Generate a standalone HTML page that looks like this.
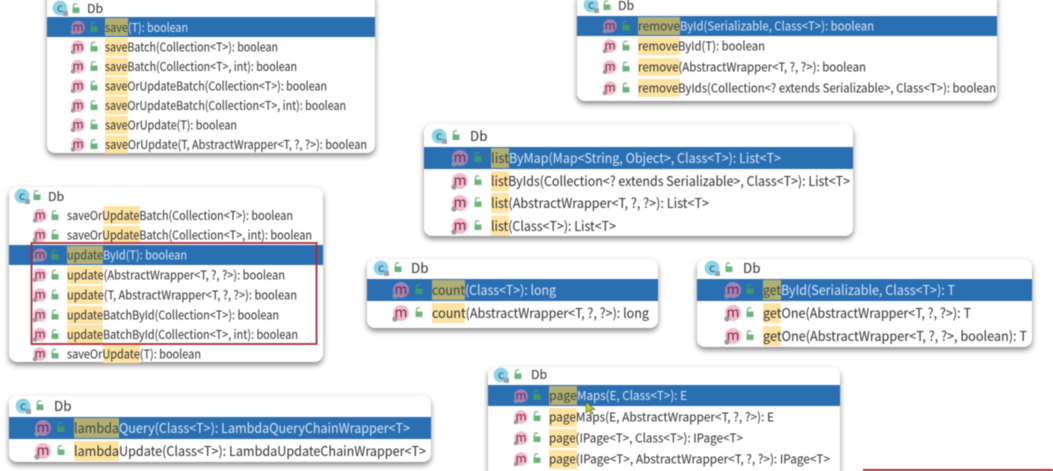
<!DOCTYPE html>
<html><head><meta charset="utf-8"><style>
html,body{margin:0;padding:0;background:#fff;width:1053px;height:471px;overflow:hidden}
svg{display:block;filter:blur(.5px)}
.p{fill:#fff;filter:drop-shadow(0 3px 3px rgba(0,0,0,.48))}
text{font-family:"Noto Sans CJK SC","Liberation Sans",sans-serif;fill:#303030;font-size:12.4px}
.b{font-size:13.4px}
.s{fill:#d6e6f6}
.h{fill:#ffe3a0}
.hs{fill:#b2ae74}
.sel{fill:#2b6fb3}
.dk{fill:#3a4a40}
.mt{font-size:12px;fill:#6a3050;text-anchor:middle}
.mb{font-size:14px;fill:#6a3050;text-anchor:middle}
.ct{font-size:12px;fill:#2f5f7a;text-anchor:middle}
</style></head><body>
<svg width="1053" height="471" viewBox="0 0 1053 471" xmlns="http://www.w3.org/2000/svg">
<defs>
<g id="m"><circle r="6.8" fill="#f7b9c9"/><circle cx="-5" cy="5" r="2.3" fill="#9a9a9a"/></g>
<g id="ms"><circle r="6.8" fill="#a283b5"/><circle cx="-5" cy="5" r="2.3" fill="#8b93a8"/></g>
<g id="M"><circle r="8" fill="#f7b9c9"/><circle cx="-6" cy="6" r="2.7" fill="#9a9a9a"/></g>
<g id="Ms"><circle r="8" fill="#a283b5"/><circle cx="-6" cy="6" r="2.7" fill="#8b93a8"/></g>
<g id="l"><rect x="-3.5" y="-1.5" width="7" height="5.5" fill="#6db57c"/><path d="M-2.5-1.5v-2a2 2 0 0 1 3.6-1" fill="none" stroke="#6db57c" stroke-width="1.2"/></g>
<g id="ls"><rect x="-3.5" y="-1.5" width="7" height="5.5" fill="#3f9a6a"/><path d="M-2.5-1.5v-2a2 2 0 0 1 3.6-1" fill="none" stroke="#3f9a6a" stroke-width="1.2"/></g>
<g id="c"><circle r="7.4" fill="#8fd3e8"/><rect x="3" y="3" width="5" height="5" fill="#9aa0a8"/></g>
</defs>

<!-- Panel 1 -->
<rect class="p" x="47" y="-10" width="328" height="163" rx="8"/>
<use href="#c" x="60" y="8"/><text class="ct" x="60" y="12">c</text><use href="#l" x="76" y="9"/><text x="87" y="13">Db</text>
<rect class="sel" x="47" y="17" width="328" height="20"/>
<rect class="hs" x="105" y="18" width="23" height="18"/><rect class="h" x="105" y="38" width="23" height="18"/><rect class="h" x="105" y="57.500" width="23" height="18"/><rect class="h" x="105" y="77" width="23" height="18"/><rect class="h" x="105" y="96.500" width="23" height="18"/><rect class="h" x="105" y="116" width="23" height="18"/><rect class="h" x="105" y="135.500" width="23" height="18"/>
<use href="#ms" x="78" y="27.500"/><text class="mt" x="78" y="31">m</text><use href="#ls" x="94" y="28"/><text class="dk" x="105" y="32" textLength="23" lengthAdjust="spacingAndGlyphs">save</text><text class="s" x="128" y="32" textLength="60" lengthAdjust="spacingAndGlyphs">(T): boolean</text>
<use href="#m" x="78" y="47"/><text class="mt" x="78" y="50.500">m</text><use href="#l" x="94" y="47.500"/><text x="105" y="51.500" textLength="173" lengthAdjust="spacingAndGlyphs">saveBatch(Collection&lt;T&gt;): boolean</text>
<use href="#m" x="78" y="66.500"/><text class="mt" x="78" y="70">m</text><use href="#l" x="94" y="67"/><text x="105" y="71" textLength="192" lengthAdjust="spacingAndGlyphs">saveBatch(Collection&lt;T&gt;, int): boolean</text>
<use href="#m" x="78" y="86"/><text class="mt" x="78" y="89.500">m</text><use href="#l" x="94" y="86.500"/><text x="105" y="90.500" textLength="222" lengthAdjust="spacingAndGlyphs">saveOrUpdateBatch(Collection&lt;T&gt;): boolean</text>
<use href="#m" x="78" y="105.500"/><text class="mt" x="78" y="109">m</text><use href="#l" x="94" y="106"/><text x="105" y="110" textLength="241" lengthAdjust="spacingAndGlyphs">saveOrUpdateBatch(Collection&lt;T&gt;, int): boolean</text>
<use href="#m" x="78" y="125"/><text class="mt" x="78" y="128.500">m</text><use href="#l" x="94" y="125.500"/><text x="105" y="129.500" textLength="132" lengthAdjust="spacingAndGlyphs">saveOrUpdate(T): boolean</text>
<use href="#m" x="78" y="144.500"/><text class="mt" x="78" y="148">m</text><use href="#l" x="94" y="145"/><text x="105" y="149" textLength="262" lengthAdjust="spacingAndGlyphs">saveOrUpdate(T, AbstractWrapper&lt;T, ?, ?&gt;): boolean</text>

<!-- Panel 2 -->
<rect class="p" x="577" y="-10" width="420" height="111" rx="8"/>
<use href="#c" x="591" y="5"/><text class="ct" x="591" y="9">c</text><use href="#l" x="607" y="6"/><text x="618" y="10">Db</text>
<rect class="sel" x="577" y="16" width="420" height="20"/>
<rect class="hs" x="638" y="17" width="42" height="18"/><rect class="h" x="638" y="37" width="42" height="18"/><rect class="h" x="638" y="58" width="42" height="18"/><rect class="h" x="638" y="79" width="42" height="18"/>
<use href="#ms" x="610" y="26"/><text class="mt" x="610" y="29.500">m</text><use href="#ls" x="626" y="26.500"/><text x="638" y="30.500" textLength="42" lengthAdjust="spacingAndGlyphs" class="dk">remove</text><text class="s" x="680" y="30.500" textLength="194" lengthAdjust="spacingAndGlyphs">ById(Serializable, Class&lt;T&gt;): boolean</text>
<use href="#m" x="610" y="46"/><text class="mt" x="610" y="49.500">m</text><use href="#l" x="626" y="46.500"/><text x="638" y="50.500" textLength="127" lengthAdjust="spacingAndGlyphs">removeById(T): boolean</text>
<use href="#m" x="610" y="67"/><text class="mt" x="610" y="70.500">m</text><use href="#l" x="626" y="67.500"/><text x="638" y="71.500" textLength="228" lengthAdjust="spacingAndGlyphs">remove(AbstractWrapper&lt;T, ?, ?&gt;): boolean</text>
<use href="#m" x="610" y="88"/><text class="mt" x="610" y="91.500">m</text><use href="#l" x="626" y="88.500"/><text x="638" y="92.500" textLength="358" lengthAdjust="spacingAndGlyphs">removeByIds(Collection&lt;? extends Serializable&gt;, Class&lt;T&gt;): boolean</text>

<!-- Panel 3 -->
<rect class="p" x="424" y="124" width="429" height="112" rx="8"/>
<use href="#c" x="439" y="136"/><text class="ct" x="439" y="140">c</text><use href="#l" x="456" y="136"/><text class="b" x="470" y="141">Db</text>
<rect class="sel" x="424" y="147" width="429" height="22"/>
<rect class="hs" x="491" y="148" width="18" height="20"/><rect class="h" x="491" y="171" width="18" height="20"/><rect class="h" x="491" y="193" width="18" height="20"/><rect class="h" x="491" y="216" width="18" height="20"/>
<use href="#Ms" x="460" y="158"/><text class="mb" x="460" y="162">m</text><use href="#ls" x="478" y="158"/><text class="b dk" x="491" y="163" textLength="18" lengthAdjust="spacingAndGlyphs">list</text><text class="b s" x="509" y="163" textLength="272" lengthAdjust="spacingAndGlyphs">ByMap(Map&lt;String, Object&gt;, Class&lt;T&gt;): List&lt;T&gt;</text>
<use href="#M" x="460" y="181"/><text class="mb" x="460" y="185">m</text><use href="#l" x="478" y="181"/><text class="b" x="491" y="186" textLength="359" lengthAdjust="spacingAndGlyphs">listByIds(Collection&lt;? extends Serializable&gt;, Class&lt;T&gt;): List&lt;T&gt;</text>
<use href="#M" x="460" y="203"/><text class="mb" x="460" y="207">m</text><use href="#l" x="478" y="203"/><text class="b" x="491" y="208" textLength="218" lengthAdjust="spacingAndGlyphs">list(AbstractWrapper&lt;T, ?, ?&gt;): List&lt;T&gt;</text>
<use href="#M" x="460" y="226"/><text class="mb" x="460" y="230">m</text><use href="#l" x="478" y="226"/><text class="b" x="491" y="231" textLength="125" lengthAdjust="spacingAndGlyphs">list(Class&lt;T&gt;): List&lt;T&gt;</text>

<!-- Panel 4 -->
<rect class="p" x="9" y="187" width="314" height="175" rx="8"/>
<use href="#c" x="22" y="196"/><text class="ct" x="22" y="200">c</text><use href="#l" x="37" y="196"/><text x="48" y="201">Db</text>
<rect class="sel" x="9" y="245" width="314" height="20"/>
<rect class="h" x="103" y="206" width="37" height="18"/><rect class="h" x="103" y="226" width="37" height="18"/><rect class="hs" x="67" y="246" width="36" height="18"/><rect class="h" x="67" y="266" width="36" height="18"/><rect class="h" x="67" y="286" width="36" height="18"/><rect class="h" x="67" y="306" width="36" height="18"/><rect class="h" x="67" y="325" width="36" height="18"/><rect class="h" x="103" y="345" width="37" height="18"/>
<use href="#m" x="40" y="215.500"/><text class="mt" x="40" y="219">m</text><use href="#l" x="55" y="216"/><text x="67" y="220" textLength="226" lengthAdjust="spacingAndGlyphs">saveOrUpdateBatch(Collection&lt;T&gt;): boolean</text>
<use href="#m" x="40" y="235"/><text class="mt" x="40" y="238.500">m</text><use href="#l" x="55" y="235.500"/><text x="67" y="239.500" textLength="245" lengthAdjust="spacingAndGlyphs">saveOrUpdateBatch(Collection&lt;T&gt;, int): boolean</text>
<use href="#ms" x="40" y="255"/><text class="mt" x="40" y="258.500">m</text><use href="#ls" x="55" y="255.500"/><text class="dk" x="67" y="259.500" textLength="36" lengthAdjust="spacingAndGlyphs">update</text><text class="s" x="103" y="259.500" textLength="84" lengthAdjust="spacingAndGlyphs">ById(T): boolean</text>
<use href="#m" x="40" y="275"/><text class="mt" x="40" y="278.500">m</text><use href="#l" x="55" y="275.500"/><text x="67" y="279.500" textLength="218" lengthAdjust="spacingAndGlyphs">update(AbstractWrapper&lt;T, ?, ?&gt;): boolean</text>
<use href="#m" x="40" y="295"/><text class="mt" x="40" y="298.500">m</text><use href="#l" x="55" y="295.500"/><text x="67" y="299.500" textLength="230" lengthAdjust="spacingAndGlyphs">update(T, AbstractWrapper&lt;T, ?, ?&gt;): boolean</text>
<use href="#m" x="40" y="315"/><text class="mt" x="40" y="318.500">m</text><use href="#l" x="55" y="315.500"/><text x="67" y="319.500" textLength="212" lengthAdjust="spacingAndGlyphs">updateBatchById(Collection&lt;T&gt;): boolean</text>
<use href="#m" x="40" y="334.500"/><text class="mt" x="40" y="338">m</text><use href="#l" x="55" y="335"/><text x="67" y="339" textLength="231" lengthAdjust="spacingAndGlyphs">updateBatchById(Collection&lt;T&gt;, int): boolean</text>
<use href="#m" x="40" y="354"/><text class="mt" x="40" y="357.500">m</text><use href="#l" x="55" y="354.500"/><text x="67" y="358.500" textLength="134" lengthAdjust="spacingAndGlyphs">saveOrUpdate(T): boolean</text>
<rect x="31.500" y="243" width="285" height="101" fill="none" stroke="#b02a37" stroke-width="1.8"/>

<!-- Panel 5 -->
<rect class="p" x="367" y="259" width="291" height="69" rx="8"/>
<use href="#c" x="381" y="268"/><text class="ct" x="381" y="272">c</text><use href="#l" x="398" y="268"/><text class="b" x="411" y="273">Db</text>
<rect class="sel" x="367" y="279" width="291" height="22"/>
<rect class="hs" x="432" y="280" width="33" height="20"/><rect class="h" x="432" y="303" width="33" height="20"/>
<use href="#Ms" x="401" y="290"/><text class="mb" x="401" y="294">m</text><use href="#ls" x="419" y="290"/><text class="b dk" x="432" y="295" textLength="33" lengthAdjust="spacingAndGlyphs">count</text><text class="b s" x="465" y="295" textLength="91" lengthAdjust="spacingAndGlyphs">(Class&lt;T&gt;): long</text>
<use href="#M" x="401" y="313"/><text class="mb" x="401" y="317">m</text><use href="#l" x="419" y="313"/><text class="b" x="432" y="318" textLength="217" lengthAdjust="spacingAndGlyphs">count(AbstractWrapper&lt;T, ?, ?&gt;): long</text>

<!-- Panel 6 -->
<rect class="p" x="697" y="259" width="335" height="88" rx="8"/>
<use href="#c" x="712" y="268"/><text class="ct" x="712" y="272">c</text><use href="#l" x="729" y="268"/><text class="b" x="743" y="273">Db</text>
<rect class="sel" x="697" y="279" width="335" height="22"/>
<rect class="hs" x="763" y="280" width="18" height="20"/><rect class="h" x="763" y="303" width="18" height="20"/><rect class="h" x="763" y="326" width="18" height="20"/>
<use href="#Ms" x="733" y="290"/><text class="mb" x="733" y="294">m</text><use href="#ls" x="750" y="290"/><text class="b dk" x="763" y="295" textLength="18" lengthAdjust="spacingAndGlyphs">get</text><text class="b s" x="781" y="295" textLength="174" lengthAdjust="spacingAndGlyphs">ById(Serializable, Class&lt;T&gt;): T</text>
<use href="#M" x="733" y="313"/><text class="mb" x="733" y="317">m</text><use href="#l" x="750" y="313"/><text class="b" x="763" y="318" textLength="208" lengthAdjust="spacingAndGlyphs">getOne(AbstractWrapper&lt;T, ?, ?&gt;): T</text>
<use href="#M" x="733" y="336"/><text class="mb" x="733" y="340">m</text><use href="#l" x="750" y="336"/><text class="b" x="763" y="341" textLength="264" lengthAdjust="spacingAndGlyphs">getOne(AbstractWrapper&lt;T, ?, ?&gt;, boolean): T</text>

<!-- Panel 7 -->
<rect class="p" x="9" y="396" width="422" height="66" rx="8"/>
<use href="#c" x="23" y="406"/><text class="ct" x="23" y="410">c</text><use href="#l" x="40" y="406"/><text class="b" x="54" y="411">Db</text>
<rect class="sel" x="9" y="417" width="422" height="22"/>
<rect class="hs" x="74" y="418" width="45" height="20"/><rect class="h" x="74" y="441" width="45" height="20"/>
<use href="#Ms" x="43" y="428"/><text class="mb" x="43" y="432">m</text><use href="#ls" x="61" y="428"/><text class="b dk" x="74" y="433" textLength="45" lengthAdjust="spacingAndGlyphs">lambda</text><text class="b s" x="119" y="433" textLength="291" lengthAdjust="spacingAndGlyphs">Query(Class&lt;T&gt;): LambdaQueryChainWrapper&lt;T&gt;</text>
<use href="#M" x="43" y="451"/><text class="mb" x="43" y="455">m</text><use href="#l" x="61" y="451"/><text class="b" x="74" y="456" textLength="352" lengthAdjust="spacingAndGlyphs">lambdaUpdate(Class&lt;T&gt;): LambdaUpdateChainWrapper&lt;T&gt;</text>

<!-- Panel 8 -->
<rect class="p" x="488" y="367" width="352" height="113" rx="8"/>
<use href="#c" x="501" y="375"/><text class="ct" x="501" y="379">c</text><use href="#l" x="518" y="375"/><text x="531" y="379">Db</text>
<rect class="sel" x="488" y="385" width="352" height="21"/>
<rect class="hs" x="549" y="386" width="28" height="19"/><rect class="h" x="549" y="408" width="28" height="19"/><rect class="h" x="549" y="429" width="28" height="19"/><rect class="h" x="549" y="450" width="28" height="19"/>
<use href="#ms" x="521" y="396"/><text class="mt" x="521" y="399.500">m</text><use href="#ls" x="537" y="396"/><text class="dk" x="549" y="400" textLength="28" lengthAdjust="spacingAndGlyphs">page</text><text class="s" x="577" y="400" textLength="110" lengthAdjust="spacingAndGlyphs">Maps(E, Class&lt;T&gt;): E</text>
<use href="#m" x="521" y="417"/><text class="mt" x="521" y="420.500">m</text><use href="#l" x="537" y="417"/><text x="549" y="421.500" textLength="225" lengthAdjust="spacingAndGlyphs">pageMaps(E, AbstractWrapper&lt;T, ?, ?&gt;): E</text>
<use href="#m" x="521" y="438"/><text class="mt" x="521" y="441.500">m</text><use href="#l" x="537" y="438"/><text x="549" y="442.500" textLength="194" lengthAdjust="spacingAndGlyphs">page(IPage&lt;T&gt;, Class&lt;T&gt;): IPage&lt;T&gt;</text>
<use href="#m" x="521" y="459"/><text class="mt" x="521" y="462.500">m</text><use href="#l" x="537" y="459"/><text x="549" y="463.500" textLength="281" lengthAdjust="spacingAndGlyphs">page(IPage&lt;T&gt;, AbstractWrapper&lt;T, ?, ?&gt;): IPage&lt;T&gt;</text>

<!-- Cursor -->
<path d="M586 402l0 11 3-2.500 2 4 2-1-2-4 4 0z" fill="#c4c83a" stroke="#3f5a3a" stroke-width=".6"/>
<!-- Bottom red line -->
<rect x="863" y="469" width="190" height="2" fill="#b5282f"/>
</svg>
</body></html>
